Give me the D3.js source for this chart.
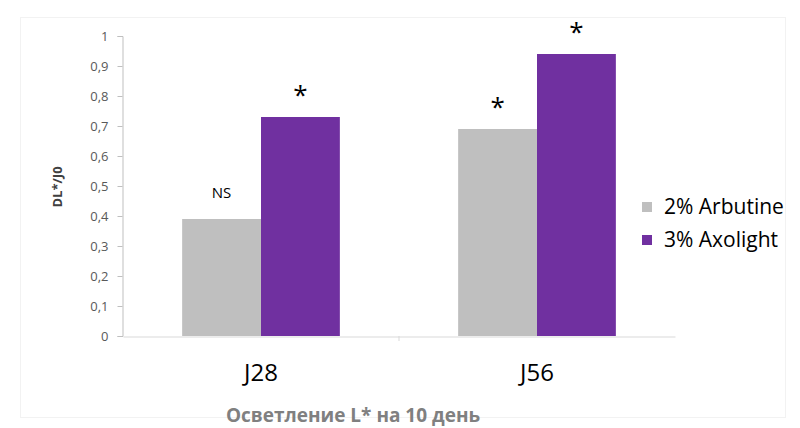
<!DOCTYPE html>
<html><head><meta charset="utf-8">
<script src="https://cdn.jsdelivr.net/npm/d3@7"></script>
<style>body{margin:0;background:#fff}svg{display:block}</style>
</head><body>
<svg id="c" width="800" height="428"></svg>
<script>
const categories = ["J28", "J56"];
const seriesNames = ["2% Arbutine", "3% Axolight"];
const arbutine = [0.39, 0.69];
const axolight = [0.73, 0.94];
const annotArbutine = ["NS", "*"];
const annotAxolight = ["*", "*"];
const yTicks = [0, 0.1, 0.2, 0.3, 0.4, 0.5, 0.6, 0.7, 0.8, 0.9, 1];
const colors = ["#bfbfbf", "#7030a0"];

const svg = d3.select("#c");
svg.append("rect").attr("x", 20.5).attr("y", 17.5).attr("width", 765).attr("height", 400)
  .attr("fill", "none").attr("stroke", "#f2f2f2");

const x0 = d3.scaleBand().domain(categories).range([123, 675]).paddingInner(0).paddingOuter(0);
const x1 = d3.scaleBand().domain(seriesNames).range([0, x0.bandwidth()]).paddingInner(0).paddingOuter(0.75);
const y = d3.scaleLinear().domain([0, 1]).range([336, 36]);

const rows = categories.map((c, i) => ({c, vals: [arbutine[i], axolight[i]], ann: [annotArbutine[i], annotAxolight[i]]}));

// y axis
const yAxis = d3.axisLeft(y).tickValues(yTicks).tickSize(5).tickPadding(9)
  .tickFormat(d => d3.format(".1f")(d).replace(".", ",").replace(/^1,0$/, "1").replace(/^0,0$/, "0"));
const ya = svg.append("g").attr("transform", "translate(122.5,0)").call(yAxis);
ya.select(".domain").attr("stroke", "#bfbfbf");
ya.selectAll(".tick line").attr("stroke", "#bfbfbf");
ya.selectAll("text").attr("fill", "#595959").style("font-family", "Open Sans, sans-serif").style("font-size", "13px");

// bars
const g = svg.append("g");
rows.forEach(r => {
  r.vals.forEach((v, j) => {
    g.append("rect").attr("x", x0(r.c) + x1(seriesNames[j])).attr("y", y(v))
      .attr("width", x1.bandwidth()).attr("height", y(0) - y(v)).attr("fill", colors[j]);
    const a = r.ann[j];
    const cx = x0(r.c) + x1(seriesNames[j]) + x1.bandwidth() / 2;
    if (a === "NS") {
      g.append("text").attr("x", cx).attr("y", y(v) - 21).attr("text-anchor", "middle")
        .style("font-family", "Open Sans, sans-serif").style("font-size", "15px").attr("fill", "#000").text(a);
    } else {
      g.append("text").attr("x", cx).attr("y", y(v) - 13).attr("text-anchor", "middle")
        .style("font-family", "Open Sans, sans-serif").style("font-size", "26px").attr("fill", "#000").text(a);
    }
  });
});

// x axis
const xAxis = d3.axisBottom(x0).tickSize(0).tickPadding(27);
const xa = svg.append("g").attr("transform", "translate(0,336.5)").call(xAxis);
xa.select(".domain").attr("stroke", "#d9d9d9");
xa.selectAll("text").attr("fill", "#000").style("font-family", "Open Sans, sans-serif").style("font-size", "24px");
svg.append("line").attr("x1", x0.range()[0] + x0.bandwidth()).attr("x2", x0.range()[0] + x0.bandwidth())
  .attr("y1", 336).attr("y2", 341).attr("stroke", "#d9d9d9");

// y label
svg.append("text").attr("transform", "translate(62,187) rotate(-90)").attr("text-anchor", "middle")
  .style("font-family", "Open Sans, sans-serif").style("font-size", "13px").style("font-weight", "bold")
  .attr("fill", "#404040").text("DL*/J0");

// title (bottom)
svg.append("text").attr("x", 353).attr("y", 422).attr("text-anchor", "middle")
  .style("font-family", "Open Sans, sans-serif").style("font-size", "19px").style("font-weight", "bold")
  .attr("fill", "#808080").text("Осветление L* на 10 день");

// legend
const leg = svg.append("g");
seriesNames.forEach((s, i) => {
  const yy = 207 + i * 33;
  leg.append("rect").attr("x", 642).attr("y", yy - 5).attr("width", 10).attr("height", 10).attr("fill", colors[i]);
  leg.append("text").attr("x", 664).attr("y", yy).attr("dy", "0.35em")
    .style("font-family", "Open Sans, sans-serif").style("font-size", "21px").attr("fill", "#000").text(s);
});
</script>
</body></html>
